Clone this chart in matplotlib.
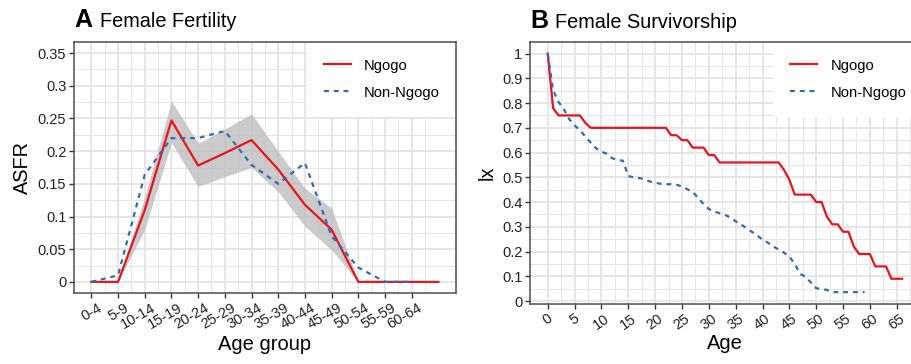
import matplotlib
matplotlib.use('Agg')
import matplotlib.pyplot as plt
import matplotlib.transforms as mtransforms
import numpy as np

plt.rcParams['font.family'] = ['Liberation Sans', 'DejaVu Sans']

# Panel A: age specific fertility rates
age_groups = ['0-4', '5-9', '10-14', '15-19', '20-24', '25-29', '30-34',
              '35-39', '40-44', '45-49', '50-54', '55-59', '60-64']
asfr_ngogo = [0, 0, 0.11, 0.247, 0.178, 0.197, 0.217, 0.172, 0.118, 0.080,
              0, 0, 0, 0]
asfr_ngogo_lo = [0, 0, 0.08, 0.213, 0.146, 0.161, 0.175, 0.138, 0.085, 0.049,
                 0, 0, 0, 0]
asfr_ngogo_hi = [0, 0, 0.13, 0.277, 0.212, 0.234, 0.257, 0.200, 0.143, 0.113,
                 0, 0, 0, 0]
asfr_other = [0, 0.01, 0.164, 0.22, 0.22, 0.231, 0.179, 0.15, 0.182, 0.07,
              0.022, 0, 0]

# Panel B: survivorship by age
lx_ngogo = [1.0, 0.78, 0.75, 0.75, 0.75, 0.75, 0.75, 0.72, 0.70, 0.70,
            0.70, 0.70, 0.70, 0.70, 0.70, 0.70, 0.70, 0.70, 0.70, 0.70,
            0.70, 0.70, 0.70, 0.67, 0.67, 0.65, 0.65, 0.62, 0.62, 0.62,
            0.59, 0.59, 0.56, 0.56, 0.56, 0.56, 0.56, 0.56, 0.56, 0.56,
            0.56, 0.56, 0.56, 0.56, 0.53, 0.49, 0.43, 0.43, 0.43, 0.43,
            0.40, 0.40, 0.34, 0.31, 0.31, 0.28, 0.28, 0.22, 0.19, 0.19,
            0.19, 0.14, 0.14, 0.14, 0.09, 0.09, 0.09]
lx_other = [1.0, 0.852, 0.805, 0.775, 0.735, 0.71, 0.69, 0.665, 0.64, 0.617,
            0.604, 0.595, 0.577, 0.57, 0.567, 0.505, 0.50, 0.497, 0.493, 0.483,
            0.478, 0.474, 0.472, 0.472, 0.470, 0.463, 0.452, 0.440, 0.418, 0.392,
            0.372, 0.362, 0.355, 0.348, 0.338, 0.322, 0.309, 0.295, 0.280, 0.265,
            0.248, 0.236, 0.221, 0.208, 0.195, 0.180, 0.150, 0.110, 0.098, 0.075,
            0.052, 0.048, 0.045, 0.036, 0.036, 0.036, 0.036, 0.036, 0.036, 0.036]

RED = '#E8141B'
BLUE = '#2E6DB4'
GRID = '#E6E6E6'

W, H = 911, 364
fig = plt.figure(figsize=(W / 100, H / 100), dpi=100)


def px_axes(left, top, right, bottom):
    return fig.add_axes([left / W, 1 - bottom / H, (right - left) / W, (bottom - top) / H])


def style(ax):
    ax.set_facecolor('white')
    for s in ax.spines.values():
        s.set_color('#4D4D4D')
        s.set_linewidth(1.1)
        s.set_zorder(6)
    ax.grid(True, which='major', color=GRID, linewidth=1.4, zorder=0)
    ax.grid(True, which='minor', color=GRID, linewidth=0.8, zorder=0)
    ax.set_axisbelow(True)
    ax.tick_params(which='major', length=3.5, width=1.0, color='#333333',
                   labelsize=10.5, labelcolor='#222222', pad=2)
    ax.tick_params(which='minor', length=0)


def add_legend(ax, x0):
    leg = ax.legend(loc='upper left', bbox_to_anchor=(x0, 1), borderaxespad=0,
                    frameon=True, fancybox=False, edgecolor='none',
                    facecolor='white', framealpha=1, fontsize=10.6,
                    handlelength=1.84, handletextpad=0.9, labelspacing=0.88,
                    borderpad=1.15)
    leg.set_zorder(5)
    return leg


def add_title(ax, letter, text, x_text, y):
    ax.text(0.0, y, letter, transform=ax.transAxes, fontsize=18,
            fontweight='bold', family=['Liberation Sans Narrow', 'Liberation Sans'],
            va='baseline', ha='left')
    ax.text(x_text, y, text, transform=ax.transAxes,
            fontsize=14.3, va='baseline', ha='left')


# ---- Panel A ----
ax1 = px_axes(74, 41.7, 455.7, 293.3)
style(ax1)
xa = np.arange(len(asfr_ngogo))
ax1.fill_between(xa, asfr_ngogo_lo, asfr_ngogo_hi, color='#BEBEBE', alpha=0.8,
                 linewidth=0, zorder=2)
ax1.plot(xa, asfr_ngogo, color=RED, linewidth=1.6, label='Ngogo', zorder=3)
ax1.plot(np.arange(len(asfr_other)), asfr_other, color=BLUE, linewidth=1.6,
         linestyle=(0, (2.2, 2.2)), label='Non-Ngogo', zorder=3)
ax1.set_xlim(-0.65, 13.65)
ax1.set_ylim(-0.0175, 0.3675)
ax1.set_xticks(np.arange(len(age_groups)))
ax1.set_xticks(np.arange(len(age_groups)) + 0.5, minor=True)
ax1.set_yticks(np.arange(0, 0.351, 0.05))
ax1.set_yticks(np.arange(0.025, 0.351, 0.05), minor=True)
ax1.set_yticklabels(['0', '0.05', '0.1', '0.15', '0.2', '0.25', '0.3', '0.35'])
offset = mtransforms.ScaledTranslation(6 / 100, 0, fig.dpi_scale_trans)
ax1.set_xticklabels(age_groups, rotation=30, ha='right', rotation_mode='anchor')
for lab in ax1.get_xticklabels():
    lab.set_transform(lab.get_transform() + offset)
ax1.set_xlabel('Age group', fontsize=14.5, labelpad=2)
ax1.set_ylabel('ASFR', fontsize=14.3, labelpad=4)
add_legend(ax1, (306.7 - 74) / (455.7 - 74))
add_title(ax1, 'A', 'Female Fertility', 0.068, (41.7 - 27.5) / 251.6 + 1)

# ---- Panel B ----
b_width = 72.6 * 5.37
ax2 = px_axes(530, 41.7, 530 + b_width, 304)
style(ax2)
ax2.plot(np.arange(len(lx_ngogo)), lx_ngogo, color=RED, linewidth=1.6,
         label='Ngogo', zorder=3)
ax2.plot(np.arange(len(lx_other)), lx_other, color=BLUE, linewidth=1.6,
         linestyle=(0, (2.2, 2.2)), label='Non-Ngogo', zorder=3)
ax2.set_xlim(-3.3, 69.3)
ax2.set_ylim(-0.012, 1.048)
ax2.set_xticks(np.arange(0, 66, 5))
ax2.set_xticks(np.arange(2.5, 69, 5), minor=True)
ax2.set_yticks(np.arange(0, 1.01, 0.1))
ax2.set_yticks(np.arange(0.05, 1.01, 0.1), minor=True)
ax2.set_yticklabels(['0', '0.1', '0.2', '0.3', '0.4', '0.5', '0.6', '0.7',
                     '0.8', '0.9', '1'])
ax2.set_xticklabels([str(v) for v in range(0, 66, 5)], rotation=35, ha='center')
ax2.set_xlabel('Age', fontsize=14.5, labelpad=1)
ax2.set_ylabel('lx', fontsize=14.3, labelpad=4)
add_legend(ax2, (773.3 - 530) / b_width)
add_title(ax2, 'B', 'Female Survivorship', 0.064, (41.7 - 27.5) / 262.3 + 1)

fig.savefig('out.png', dpi=100, facecolor='white')
